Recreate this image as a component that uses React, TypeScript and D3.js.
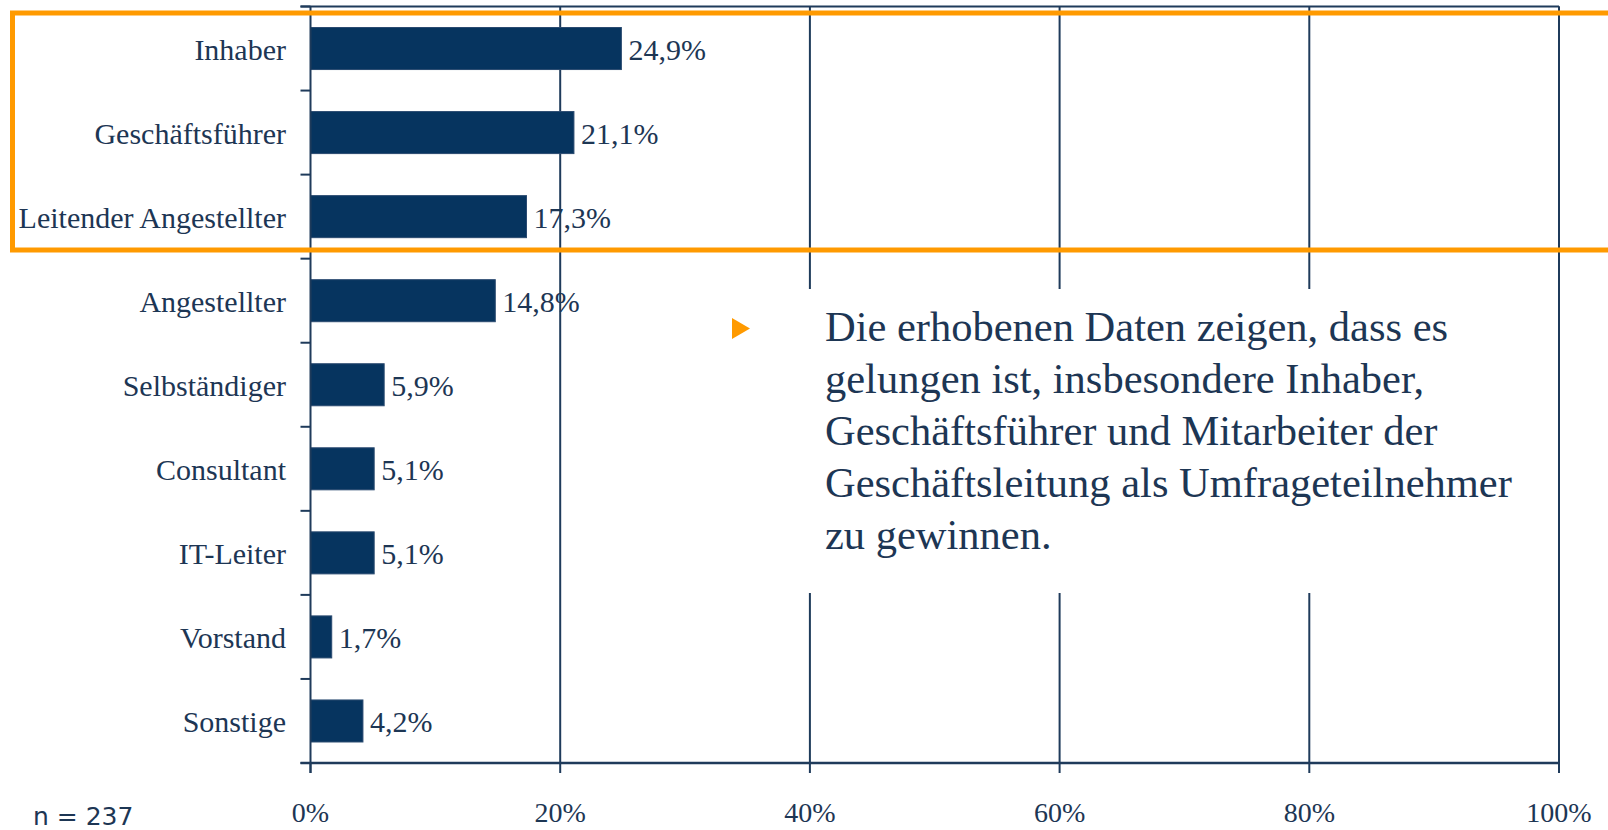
import React from "react";
import * as d3 from "d3";

const categories = [
  "Inhaber",
  "Geschäftsführer",
  "Leitender Angestellter",
  "Angestellter",
  "Selbständiger",
  "Consultant",
  "IT-Leiter",
  "Vorstand",
  "Sonstige",
];
const values = [24.9, 21.1, 17.3, 14.8, 5.9, 5.1, 5.1, 1.7, 4.2];
const xTicks = [0, 20, 40, 60, 80, 100];
const noteLines = [
  "Die erhobenen Daten zeigen, dass es",
  "gelungen ist, insbesondere Inhaber,",
  "Geschäftsführer und Mitarbeiter der",
  "Geschäftsleitung als Umfrageteilnehmer",
  "zu gewinnen.",
];
const sampleNote = "n = 237";

const W = 1608;
const H = 830;
const LINE = "#1f3b5b";
const BAR = "#06345f";
const TEXT = "#1d3654";
const ORANGE = "#ff9a00";
const SERIF = "'Liberation Serif', 'Times New Roman', serif";

export default function App() {
  const left = 310.5;
  const right = 1559;
  const top = 6.5;
  const bottom = 763;

  const x = d3.scaleLinear().domain([0, 100]).range([left, right]);
  const y = d3
    .scaleBand<string>()
    .domain(categories)
    .range([top, bottom])
    .paddingInner(0.5)
    .paddingOuter(0.25);
  const step = y.step();
  const bounds = d3.range(categories.length + 1).map((i) => top + i * step);
  const fmt = (v: number) => v.toFixed(1).replace(".", ",") + "%";

  return (
    <svg
      width={W}
      height={H}
      style={{ position: "absolute", left: 0, top: 0, background: "#fff" }}
    >
      {/* gridlines */}
      {xTicks.slice(1).map((t) => (
        <line key={"g" + t} x1={x(t)} x2={x(t)} y1={top} y2={bottom} stroke={LINE} strokeWidth={2} />
      ))}
      {/* top border */}
      <line x1={left - 10} x2={right} y1={top} y2={top} stroke={LINE} strokeWidth={2} />

      {/* white box behind note */}
      <rect x={700} y={289} width={845} height={304} fill="#fff" />
      <line x1={x(100)} x2={x(100)} y1={top} y2={bottom} stroke={LINE} strokeWidth={2} />

      {/* bars */}
      {categories.map((c, i) => (
        <rect
          key={c}
          x={x(0)}
          y={y(c)!}
          width={x(values[i]) - x(0)}
          height={y.bandwidth()}
          fill={BAR}
          stroke="#2a4a70"
          strokeWidth={1}
        />
      ))}

      {/* y axis */}
      <line x1={left} x2={left} y1={top} y2={bottom + 10} stroke={LINE} strokeWidth={2} />
      {bounds.map((b, i) => (
        <line key={"yt" + i} x1={left - 10} x2={left} y1={b} y2={b} stroke={LINE} strokeWidth={2} />
      ))}
      {/* x axis */}
      <line x1={left - 10} x2={right} y1={bottom} y2={bottom} stroke={LINE} strokeWidth={2.5} />
      {xTicks.map((t) => (
        <line key={"xt" + t} x1={x(t)} x2={x(t)} y1={bottom} y2={bottom + 10} stroke={LINE} strokeWidth={2} />
      ))}

      {/* category labels */}
      {categories.map((c) => (
        <text
          key={"l" + c}
          x={286}
          y={y(c)! + y.bandwidth() / 2}
          dy="0.38em"
          textAnchor="end"
          fontFamily={SERIF}
          fontSize={30}
          fill={TEXT}
        >
          {c}
        </text>
      ))}

      {/* value labels */}
      {categories.map((c, i) => (
        <text
          key={"v" + c}
          x={x(values[i]) + 7}
          y={y(c)! + y.bandwidth() / 2}
          dy="0.38em"
          fontFamily={SERIF}
          fontSize={30}
          fill={TEXT}
        >
          {fmt(values[i])}
        </text>
      ))}

      {/* x tick labels */}
      {xTicks.map((t) => (
        <text
          key={"xl" + t}
          x={x(t)}
          y={821.5}
          textAnchor="middle"
          fontFamily={SERIF}
          fontSize={28}
          fill={TEXT}
        >
          {t + "%"}
        </text>
      ))}

      {/* sample size */}
      <text x={33} y={825} fontFamily="'DejaVu Sans', sans-serif" fontSize={25} fill={TEXT}>
        {sampleNote}
      </text>

      {/* note */}
      <path d="M732,318 L750,328.5 L732,339 Z" fill={ORANGE} />
      {noteLines.map((l, i) => (
        <text
          key={"n" + i}
          x={825}
          y={340.7 + i * 52}
          fontFamily={SERIF}
          fontSize={42.5}
          fill={TEXT}
        >
          {l}
        </text>
      ))}

      {/* orange highlight */}
      <rect x={12.5} y={13} width={1620} height={237} fill="none" stroke={ORANGE} strokeWidth={5} />
    </svg>
  );
}
